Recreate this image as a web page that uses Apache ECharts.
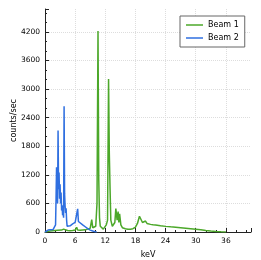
<!DOCTYPE html>
<html>
<head>
<meta charset="utf-8">
<script src="https://cdn.jsdelivr.net/npm/echarts@6/dist/echarts.min.js"></script>
<style>html,body{margin:0;padding:0;background:#fff}#c{width:261px;height:260px}</style>
</head>
<body>
<div id="c"></div>
<script>
// Beam 1 spectrum: [keV, counts/sec]
var beam1Energy = [0,0.5,1.0,1.5,2.0,2.3,2.5,2.8,3.3,3.7,3.9,4.5,5.0,5.5,6.0,6.3,6.5,7.0,7.5,8.0,8.5,9.0,9.3,9.5,9.8,10.1,10.35,10.55,10.7,10.85,11.0,11.3,11.6,11.9,12.2,12.45,12.65,12.8,12.95,13.1,13.4,13.7,13.9,14.1,14.35,14.55,14.7,14.85,15.1,15.4,16.0,16.5,17.0,17.5,18.0,18.4,18.8,19.1,19.4,19.7,20.0,20.3,20.6,21.0,21.5,22.0,23,24,25,26,27,28,29,30,31,32,33,34,35,36];
var beam1Counts = [0,10,20,25,30,60,35,30,40,60,35,30,25,30,40,100,40,35,40,45,60,80,260,90,70,120,600,4220,1100,300,120,80,60,90,150,250,3210,1650,900,250,120,100,200,490,250,430,200,380,150,90,70,60,60,70,100,180,330,300,200,180,230,180,200,160,150,145,130,118,108,100,90,80,70,58,45,32,20,10,3,0];
// Beam 2 spectrum: [keV, counts/sec]
var beam2Energy = [0,0.3,0.6,1.0,1.3,1.6,1.9,2.1,2.2,2.3,2.35,2.45,2.5,2.6,2.7,2.8,2.9,3.0,3.1,3.2,3.3,3.4,3.5,3.6,3.7,3.8,3.9,4.0,4.1,4.2,4.3,4.4,4.6,5.0,5.5,6.0,6.3,6.5,6.65,7.0,7.5,8.0,8.5,9.0,9.5,10.0,10.3];
var beam2Counts = [0,20,40,45,30,50,60,150,700,1360,900,1200,600,2130,900,1250,700,1000,600,830,450,560,350,420,300,2640,800,550,400,500,250,120,100,130,170,200,210,485,220,190,150,110,70,40,20,5,0];
var seriesNames = ['Beam 1','Beam 2'];
var xTicks = {min:0, max:41, interval:6};
var yTicks = {min:0, max:4680, interval:600};

function pairs(xs, ys){ return xs.map(function(x,i){ return [x, ys[i]]; }); }
function plain(v){ return String(v); }

var chart = echarts.init(document.getElementById('c'), null, {renderer:'canvas'});
var font = 'DejaVu Sans';
chart.setOption({
  animation:false,
  backgroundColor:'#fff',
  grid:{left:45, right:10, top:9, bottom:28, containLabel:false, outerBoundsMode:'none'},
  legend:{
    orient:'vertical', left:180, top:16,
    data:seriesNames,
    icon:'rect', itemWidth:17, itemHeight:1.5, itemGap:5,
    padding:[5,6,5,6],
    borderColor:'#666', borderWidth:1, backgroundColor:'#fff',
    textStyle:{fontFamily:font, fontSize:8, color:'#000'}
  },
  xAxis:{
    type:'value', min:xTicks.min, max:xTicks.max, interval:xTicks.interval,
    name:'keV', nameLocation:'middle', nameGap:19, nameMoveOverlap:false,
    nameTextStyle:{fontFamily:font, fontSize:8, color:'#000'},
    axisLine:{onZero:false, lineStyle:{color:'#222', width:1}},
    axisTick:{inside:true, length:4, lineStyle:{color:'#222'}},
    minorTick:{show:true, splitNumber:3, length:2, lineStyle:{color:'#222'}},
    axisLabel:{fontFamily:font, fontSize:7.5, color:'#000', margin:5, showMaxLabel:false, formatter:plain},
    splitLine:{show:true, showMinLine:false, showMaxLine:false, lineStyle:{color:'#ddd', type:'dotted'}}
  },
  yAxis:{
    type:'value', min:yTicks.min, max:yTicks.max, interval:yTicks.interval,
    name:'counts/sec', nameLocation:'middle', nameGap:27, nameRotate:90, nameMoveOverlap:false,
    nameTextStyle:{fontFamily:font, fontSize:8, color:'#000'},
    axisLine:{show:true, lineStyle:{color:'#222', width:1}},
    axisTick:{show:true, inside:true, length:4, lineStyle:{color:'#222'}},
    minorTick:{show:true, splitNumber:3, length:2, lineStyle:{color:'#222'}},
    axisLabel:{fontFamily:font, fontSize:7.5, color:'#000', margin:5, showMaxLabel:false, formatter:plain},
    splitLine:{show:true, showMinLine:false, showMaxLine:false, lineStyle:{color:'#ddd', type:'dotted'}}
  },
  series:[
    {name:seriesNames[0], type:'line', showSymbol:false, data:pairs(beam1Energy, beam1Counts),
     lineStyle:{color:'#4ca82a', width:1.5}, itemStyle:{color:'#4ca82a'}},
    {name:seriesNames[1], type:'line', showSymbol:false, data:pairs(beam2Energy, beam2Counts),
     lineStyle:{color:'#2f6fe0', width:1.5}, itemStyle:{color:'#2f6fe0'}}
  ]
});
</script>
</body>
</html>
